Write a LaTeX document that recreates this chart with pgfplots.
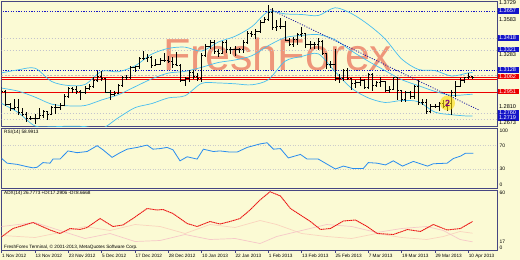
\documentclass[border=0pt]{standalone}
\usepackage{pgfplots}
\pgfplotsset{compat=1.18}
\usepackage{pgfplotstable}
\usepackage{fontspec}
\setmainfont{Liberation Sans}
\definecolor{bgy}{RGB}{251,250,212}
\definecolor{mtblue}{RGB}{20,20,200}
\definecolor{mtred}{RGB}{235,0,0}
\definecolor{frm}{RGB}{70,70,130}
\definecolor{wm}{RGB}{238,150,122}
\definecolor{rsiblue}{RGB}{40,140,240}
\definecolor{bbcyan}{RGB}{70,190,240}
\definecolor{adxred}{RGB}{235,20,20}
\definecolor{dipink}{RGB}{250,212,190}
\definecolor{dipink2}{RGB}{246,200,200}
\definecolor{gridg}{RGB}{195,195,205}
\newcommand{\bx}[2]{{\setlength{\fboxsep}{0.8bp}\colorbox{#1}{\makebox[19.5bp][l]{\textcolor{white}{#2}}}}}
\newcommand{\pl}[1]{\makebox[19.5bp][l]{\hspace{0.8bp}#1}}

\pgfplotstableread{
i O H L C
0 1.2955 1.2990 1.2925 1.2950
1 1.2950 1.2963 1.2820 1.2833
2 1.2833 1.2845 1.2778 1.2800
3 1.2800 1.2880 1.2790 1.2810
4 1.2810 1.2880 1.2740 1.2763
5 1.2763 1.2800 1.2730 1.2745
6 1.2745 1.2765 1.2685 1.2712
7 1.2712 1.2735 1.2695 1.2710
8 1.2710 1.2750 1.2661 1.2710
9 1.2710 1.2800 1.2705 1.2740
10 1.2740 1.2785 1.2720 1.2770
11 1.2770 1.2780 1.2700 1.2745
12 1.2745 1.2820 1.2740 1.2810
13 1.2810 1.2840 1.2750 1.2810
14 1.2810 1.2850 1.2785 1.2830
15 1.2830 1.2925 1.2825 1.2910
16 1.2910 1.2990 1.2890 1.2975
17 1.2975 1.2985 1.2940 1.2970
18 1.2970 1.3000 1.2925 1.2950
19 1.2950 1.2960 1.2875 1.2940
20 1.2940 1.2995 1.2925 1.2980
21 1.2980 1.3015 1.2960 1.2990
22 1.2990 1.3075 1.2980 1.3050
23 1.3050 1.3125 1.3035 1.3085
24 1.3085 1.3125 1.3045 1.3060
25 1.3060 1.3070 1.2940 1.2945
26 1.2945 1.2960 1.2875 1.2925
27 1.2925 1.2955 1.2910 1.2930
28 1.2930 1.3015 1.2925 1.3000
29 1.3000 1.3085 1.2990 1.3070
30 1.3070 1.3095 1.3050 1.3070
31 1.3070 1.3170 1.3060 1.3160
32 1.3160 1.3175 1.3120 1.3165
33 1.3165 1.3255 1.3150 1.3240
34 1.3240 1.3308 1.3225 1.3240
35 1.3240 1.3280 1.3210 1.3250
36 1.3250 1.3260 1.3160 1.3180
37 1.3180 1.3235 1.3175 1.3190
38 1.3190 1.3245 1.3185 1.3220
39 1.3220 1.3285 1.3205 1.3225
40 1.3225 1.3260 1.3200 1.3217
41 1.3217 1.3250 1.3160 1.3190
42 1.3190 1.3299 1.3170 1.3180
43 1.3180 1.3195 1.3030 1.3050
44 1.3050 1.3080 1.2997 1.3065
45 1.3065 1.3140 1.3030 1.3115
46 1.3115 1.3135 1.3060 1.3085
47 1.3085 1.3110 1.3045 1.3065
48 1.3065 1.3290 1.3030 1.3270
49 1.3270 1.3365 1.3250 1.3345
50 1.3345 1.3403 1.3320 1.3380
51 1.3380 1.3400 1.3280 1.3300
52 1.3300 1.3320 1.3255 1.3280
53 1.3280 1.3390 1.3275 1.3380
54 1.3380 1.3400 1.3290 1.3315
55 1.3315 1.3340 1.3280 1.3320
56 1.3320 1.3345 1.3260 1.3320
57 1.3320 1.3335 1.3290 1.3315
58 1.3315 1.3400 1.3285 1.3380
59 1.3380 1.3478 1.3370 1.3460
60 1.3460 1.3480 1.3425 1.3450
61 1.3450 1.3495 1.3410 1.3480
62 1.3480 1.3580 1.3460 1.3560
63 1.3560 1.3600 1.3555 1.3580
64 1.3580 1.3711 1.3570 1.3640
65 1.3640 1.3680 1.3490 1.3510
66 1.3510 1.3580 1.3480 1.3525
67 1.3525 1.3595 1.3500 1.3520
68 1.3520 1.3565 1.3390 1.3400
69 1.3400 1.3415 1.3350 1.3365
70 1.3365 1.3430 1.3340 1.3405
71 1.3405 1.3465 1.3360 1.3450
72 1.3450 1.3520 1.3425 1.3455
73 1.3455 1.3465 1.3330 1.3360
74 1.3360 1.3390 1.3320 1.3365
75 1.3365 1.3385 1.3325 1.3360
76 1.3360 1.3415 1.3315 1.3390
77 1.3390 1.3400 1.3270 1.3280
78 1.3280 1.3290 1.3145 1.3190
79 1.3190 1.3220 1.3160 1.3190
80 1.3190 1.3320 1.3040 1.3060
81 1.3060 1.3100 1.3020 1.3060
82 1.3060 1.3145 1.3040 1.3130
83 1.3130 1.3160 1.3055 1.3060
84 1.3060 1.3070 1.2965 1.3020
85 1.3020 1.3050 1.2980 1.3025
86 1.3025 1.3080 1.3000 1.3050
87 1.3050 1.3060 1.2970 1.2985
88 1.2985 1.3110 1.2975 1.3100
89 1.3100 1.3110 1.2955 1.3000
90 1.3000 1.3045 1.2985 1.3030
91 1.3030 1.3075 1.2990 1.3040
92 1.3040 1.3045 1.2945 1.2955
93 1.2955 1.2995 1.2940 1.2970
94 1.2970 1.3080 1.2960 1.3075
95 1.3075 1.3080 1.2875 1.2955
96 1.2955 1.2965 1.2860 1.2875
97 1.2875 1.2955 1.2860 1.2940
98 1.2940 1.2950 1.2885 1.2905
99 1.2905 1.3010 1.2880 1.2990
100 1.2990 1.3050 1.2830 1.2855
101 1.2855 1.2885 1.2830 1.2850
102 1.2850 1.2880 1.2750 1.2770
103 1.2770 1.2840 1.2760 1.2820
104 1.2820 1.2835 1.2800 1.2820
105 1.2820 1.2860 1.2780 1.2845
106 1.2845 1.2875 1.2800 1.2815
107 1.2815 1.2850 1.2780 1.2840
108 1.2840 1.2960 1.2745 1.2945
109 1.2945 1.3040 1.2900 1.2995
110 1.2995 1.3065 1.2990 1.3050
111 1.3050 1.3080 1.3020 1.3070
112 1.3070 1.3110 1.3055 1.3080
113 1.3080 1.3085 1.3065 1.3072
}\ohlc

\pgfplotstableread{
i up mid lo
0 1.3113 1.2979 1.2844
4 1.3140 1.2952 1.2763
8 1.3154 1.2900 1.2646
12 1.3037 1.2838 1.2640
16 1.3002 1.2823 1.2644
20 1.3011 1.2826 1.2641
24 1.3127 1.2875 1.2623
28 1.3123 1.2921 1.2719
32 1.3175 1.2991 1.2807
36 1.3277 1.3060 1.2843
40 1.3328 1.3111 1.2893
44 1.3339 1.3126 1.2912
48 1.3304 1.3162 1.3021
52 1.3384 1.3204 1.3024
56 1.3434 1.3226 1.3017
60 1.3518 1.3263 1.3008
64 1.3651 1.3352 1.3053
68 1.3631 1.3423 1.3215
72 1.3626 1.3442 1.3257
76 1.3617 1.3449 1.3280
80 1.3685 1.3404 1.3124
84 1.3633 1.3305 1.2977
88 1.3537 1.3215 1.2893
92 1.3412 1.3133 1.2853
96 1.3235 1.3053 1.2870
100 1.3143 1.3001 1.2859
104 1.3133 1.2950 1.2768
108 1.3085 1.2915 1.2745
112 1.3113 1.2923 1.2733
113 1.3115 1.2925 1.2735
}\bb

\pgfplotstableread{
i v
0 48
1.3 40
3.7 38
6.1 34
7.5 32
8.5 33
9.9 41
11.6 40
12.3 47
14.0 47
15.9 61
18.1 58
20.5 60
22.9 70
24.3 63
26.5 50
28.4 58
30.1 64
32.5 67
34.9 71
36.3 64
38.0 65
39.7 67
41.1 63
42.8 44
44.5 51
46.9 47
48.4 64
50.8 60
52.4 61
54.8 59
56.5 59
58.9 67
62.0 73
63.7 75
65.2 64
66.9 65
68.8 49
71.7 55
73.3 47
76.0 47
80.1 30
82.0 35
84.2 31
86.8 31
88.0 41
90.1 40
92.1 37
94.0 44
96.2 35
98.8 43
102.2 35
103.6 39
106.9 40
108.4 48
110.1 52
111.3 57
113.2 57
}\rsi

\pgfplotstableread{
i v
0 13.8
2.7 22
7.5 28
11.6 20.5
14.0 17
16.4 22
18.8 21
20.5 23
23.6 32
26.7 24
29.1 25.5
31.5 32
34.9 42
37.3 40.5
38.7 41
41.1 37
44.5 27
46.9 24
50.0 29
52.4 26.5
54.8 29
57.2 32
59.6 40.5
62.0 50.5
64.4 58.8
66.9 54.5
69.3 42
71.7 35.5
74.1 29
76.5 21
78.9 22
82.0 29.5
84.9 30.5
87.7 24
90.1 17
94.0 16
97.4 21
100.5 19
103.6 26
106.9 20.5
110.1 22
113.0 29
}\adx

\pgfplotstableread{
i p m
0 15 24
8 13 28
14 18 20
20 24 12
26 20 17
32 26 9
38 24 10
44 17 16
50 26 11
56 23 12
62 30 7
66 26 14
72 17 20
78 14 26
84 12 24
90 17 18
96 13 22
102 11 24
106 14 20
110 19 11
113 17.3 8.7
}\di

\begin{document}
\begin{tikzpicture}
\fill[bgy] (0,0) rectangle (520bp,-260bp);
\path[use as bounding box] (0,0) rectangle (520bp,-260bp);
\node[anchor=base west, text=wm, font=\fontsize{45}{45}\selectfont, inner sep=0pt] at (163bp,-70bp) {FreshForex};

% ---------------- main price panel
\begin{axis}[
  at={(1.5bp,-1.5bp)}, anchor=north west, scale only axis,
  width=496bp, height=124.5bp,
  xmin=-0.05, xmax=119, ymin=1.2646, ymax=1.3740,
  axis line style={frm, line width=0.9bp},
  xtick=\empty, scaled y ticks=false,
  ytick={1.3727,1.3657,1.3578,1.3420,1.3318,1.3275,1.3138,1.3081,1.2949,1.2813,1.2760,1.2716,1.2672},
  yticklabels={\pl{1.3729},\bx{mtblue}{1.3657},\pl{1.3583},\bx{mtblue}{1.3418},\bx{mtblue}{1.3321},\pl{1.3283},\bx{mtblue}{1.3128},\bx{mtred}{1.3062},\bx{mtred}{1.2951},\pl{1.2810},\bx{mtblue}{1.2760},\bx{mtblue}{1.2719},\pl{1.2673}},
  ytick pos=right, yticklabel pos=right,
  yticklabel style={anchor=west, inner sep=0pt, xshift=0.5bp, font=\fontsize{5.6}{6}\selectfont},
  tick style={draw=none},
  clip=true,
]
% horizontal levels
\addplot[gridg, line width=0.6bp, dash pattern=on 1bp off 2bp] coordinates {(-1,1.3420) (120,1.3420)};
\addplot[gridg, line width=0.6bp, dash pattern=on 1bp off 2bp] coordinates {(-1,1.3314) (120,1.3314)};
\addplot[gridg, line width=0.6bp, dash pattern=on 1bp off 2bp] coordinates {(-1,1.2758) (120,1.2758)};
\addplot[gridg, line width=0.6bp, dash pattern=on 1bp off 2bp] coordinates {(-1,1.2708) (120,1.2708)};
\addplot[mtblue, line width=0.8bp, dash pattern=on 1.3bp off 1.3bp] coordinates {(-1,1.3657) (120,1.3657)};
\addplot[mtblue, line width=0.8bp, dash pattern=on 1.3bp off 1.3bp] coordinates {(-1,1.3132) (120,1.3132)};
\addplot[black!25, line width=0.8bp, dash pattern=on 2bp off 1.5bp] coordinates {(-1,1.3094) (120,1.3094)};
\addplot[mtred, line width=0.9bp] coordinates {(-1,1.3074) (120,1.3074)};
\addplot[mtred, line width=0.9bp] coordinates {(-1,1.3056) (120,1.3056)};
\addplot[mtred, line width=0.9bp] coordinates {(-1,1.2942) (120,1.2942)};
% bollinger
\addplot[bbcyan, line width=0.7bp, smooth] table[x=i, y=up] {\bb};
\addplot[bbcyan, line width=0.7bp, smooth] table[x=i, y=mid] {\bb};
\addplot[bbcyan, line width=0.7bp, smooth] table[x=i, y=lo] {\bb};
% trendline
\addplot[mtblue!80!black, line width=0.8bp, dash pattern=on 1bp off 1.5bp] coordinates {(64.5,1.3670) (114.5,1.2787)};
% OHLC bars
\addplot[draw=none, mark=none, error bars/.cd, y dir=both, y explicit, error mark=none,
  error bar style={draw=black, solid, line width=0.9bp}]
  table[x=i, y=C, y error plus expr=\thisrow{H}-\thisrow{C}, y error minus expr=\thisrow{C}-\thisrow{L}] {\ohlc};
\addplot[draw=none, mark=none, error bars/.cd, x dir=plus, x fixed=0.42, error mark=none,
  error bar style={draw=black, solid, line width=0.9bp}]
  table[x=i, y=C] {\ohlc};
\addplot[draw=none, mark=none, error bars/.cd, x dir=minus, x fixed=0.42, error mark=none,
  error bar style={draw=black, solid, line width=0.9bp}]
  table[x=i, y=O] {\ohlc};
% wave label
\node[circle, fill=yellow!80!orange, fill opacity=0.6, text opacity=1, minimum size=15bp, inner sep=0pt,
  text=violet, font=\fontsize{9}{9}\selectfont\bfseries] at (axis cs:107,1.2848) {2};
\end{axis}

% ---------------- RSI panel
\begin{axis}[
  at={(1.5bp,-128bp)}, anchor=north west, scale only axis,
  width=496bp, height=60.5bp,
  xmin=-0.05, xmax=119, ymin=-3.4, ymax=100.3,
  axis line style={frm, line width=0.9bp},
  xtick=\empty,
  ytick={2.5,30,70,95}, yticklabels={0,30,70,100},
  ytick pos=right, yticklabel pos=right,
  yticklabel style={anchor=west, inner sep=0pt, xshift=2bp, font=\fontsize{5}{5}\selectfont},
  tick style={draw=none},
]
\addplot[black!20, line width=0.5bp, dash pattern=on 1bp off 1.5bp] coordinates {(-1,70) (120,70)};
\addplot[black!20, line width=0.5bp, dash pattern=on 1bp off 1.5bp] coordinates {(-1,30) (120,30)};
\addplot[rsiblue, line width=0.8bp] table[x=i, y=v] {\rsi};
\end{axis}

% ---------------- ADX panel
\begin{axis}[
  at={(1.5bp,-190bp)}, anchor=north west, scale only axis,
  width=496bp, height=60.5bp,
  xmin=-0.05, xmax=119, ymin=0, ymax=60.5,
  axis line style={frm, line width=0.9bp},
  xtick={0,8,16,24,32,40,48,56,64,72,80,88,96,104,112},
  xticklabels={1 Nov 2012,13 Nov 2012,23 Nov 2012,5 Dec 2012,17 Dec 2012,28 Dec 2012,10 Jan 2013,22 Jan 2013,1 Feb 2013,13 Feb 2013,25 Feb 2013,7 Mar 2013,19 Mar 2013,29 Mar 2013,10 Apr 2013},
  xtick pos=left, xtick align=outside, major tick length=2.5bp,
  xtick style={draw=frm, line width=0.8bp},
  xticklabel style={anchor=north west, inner sep=0.6bp, xshift=-0.3bp, font=\fontsize{4.7}{5}\selectfont},
  ytick={2.8,8.8,57.5}, yticklabels={0,17,60},
  ytick pos=right, yticklabel pos=right,
  yticklabel style={anchor=west, inner sep=0pt, xshift=2bp, font=\fontsize{5}{5}\selectfont},
  ytick style={draw=none},
]
\addplot[dipink, line width=0.7bp] table[x=i, y=p] {\di};
\addplot[dipink2, line width=0.7bp] table[x=i, y=m] {\di};
\addplot[adxred, line width=0.9bp, dash pattern=on 1.4bp off 0.5bp] table[x=i, y=v] {\adx};
\end{axis}

\node[anchor=west, inner sep=0pt, font=\fontsize{4.7}{5}\selectfont] at (4bp,-131.8bp) {RSI(14) 58.9913};
\node[anchor=west, inner sep=0pt, font=\fontsize{4.7}{5}\selectfont] at (4bp,-193.3bp) {ADX(14) 26.7773 +DI:17.2906 -DI:8.6668};
\node[anchor=west, inner sep=0pt, font=\fontsize{4.7}{5}\selectfont] at (4bp,-246.8bp) {FreshForex Terminal, © 2001-2013, MetaQuotes Software Corp.};
\end{tikzpicture}
\end{document}
